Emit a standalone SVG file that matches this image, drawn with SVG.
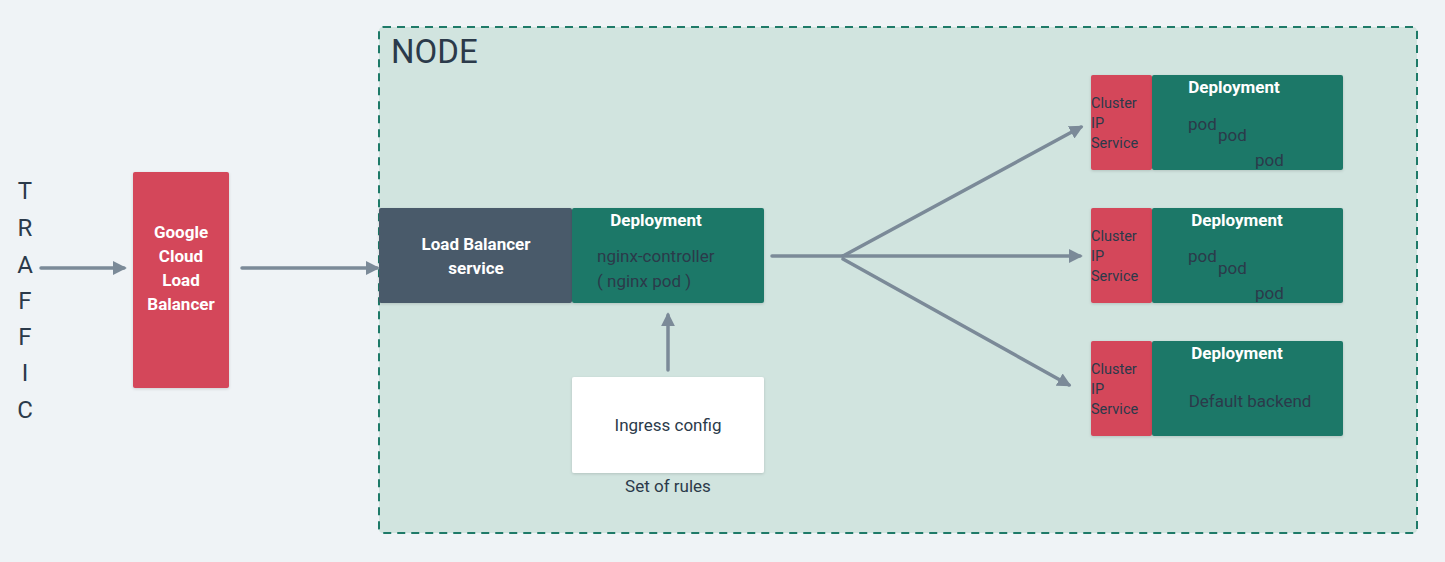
<svg xmlns="http://www.w3.org/2000/svg" width="1445" height="562" viewBox="0 0 1445 562">
<defs>
<style>
text{font-family:Roboto,"Noto Sans","Liberation Sans",sans-serif;}
.w{fill:#ffffff;font-weight:bold;font-size:17px;text-anchor:middle;}
.d{fill:#2b3a4a;font-size:17px;}
.s{fill:#2b3a4a;font-size:14.5px;}
.c{fill:#2b3a4a;font-size:24px;text-anchor:middle;}
.red{fill:#d4465a;}
.grn{fill:#1f7868;}
.conn{stroke:#7b8a98;stroke-width:3.5;fill:none;stroke-linecap:round;}
</style>
<marker id="ah" viewBox="0 0 10 10" refX="8" refY="5" markerWidth="4" markerHeight="4" orient="auto" markerUnits="strokeWidth">
<path d="M0,0 L10,5 L0,10 z" fill="#7b8a98"/>
</marker>
<filter id="sh" x="-10%" y="-10%" width="120%" height="130%">
<feDropShadow dx="0" dy="1" stdDeviation="1.5" flood-color="#000" flood-opacity="0.15"/>
</filter>
</defs>
<rect width="1445" height="562" fill="#eff3f6"/>

<g id="node-area">
<rect x="379" y="27" width="1038" height="506" rx="4" fill="#d1e4df" stroke="#1e7a68" stroke-width="2" stroke-dasharray="8,6"/>
<text x="391" y="63" style="font-size:33px;fill:#2b3a4a;">NODE</text>
</g>

<g id="traffic">
<text class="c" x="25" y="199">T</text>
<text class="c" x="25" y="236">R</text>
<text class="c" x="25" y="273">A</text>
<text class="c" x="25" y="309">F</text>
<text class="c" x="25" y="345">F</text>
<text class="c" x="25" y="381">I</text>
<text class="c" x="25" y="418">C</text>
</g>

<g id="gclb">
<rect class="red" x="133" y="172" width="96" height="216" rx="2" filter="url(#sh)"/>
<text class="w" x="181" y="238">Google</text>
<text class="w" x="181" y="262">Cloud</text>
<text class="w" x="181" y="286">Load</text>
<text class="w" x="181" y="310">Balancer</text>
</g>

<g id="lb-service">
<rect x="379" y="208" width="193" height="95" rx="2" fill="#4a5a6a" filter="url(#sh)"/>
<text class="w" x="476" y="250">Load Balancer</text>
<text class="w" x="476" y="274">service</text>
</g>

<g id="nginx-deployment">
<rect class="grn" x="572" y="208" width="192" height="95" rx="2" filter="url(#sh)"/>
<text class="w" x="656" y="226">Deployment</text>
<text class="d" x="597" y="262">nginx-controller</text>
<text class="d" x="597" y="287">( nginx pod )</text>
</g>

<g id="ingress-config">
<rect x="572" y="377" width="192" height="96" rx="2" fill="#ffffff" filter="url(#sh)"/>
<text class="d" x="668" y="431" text-anchor="middle">Ingress config</text>
<text class="d" x="668" y="492" text-anchor="middle">Set of rules</text>
</g>

<g id="service-1">
<rect class="red" x="1091" y="75" width="61" height="95" rx="2" filter="url(#sh)"/>
<text class="s" x="1091" y="108">Cluster</text>
<text class="s" x="1091" y="128">IP</text>
<text class="s" x="1091" y="148">Service</text>
<rect class="grn" x="1152" y="75" width="191" height="95" rx="2" filter="url(#sh)"/>
<text class="w" x="1234" y="93">Deployment</text>
<text class="d" x="1188" y="130">pod</text>
<text class="d" x="1218" y="141">pod</text>
<text class="d" x="1255" y="166">pod</text>
</g>

<g id="service-2">
<rect class="red" x="1091" y="208" width="61" height="95" rx="2" filter="url(#sh)"/>
<text class="s" x="1091" y="241">Cluster</text>
<text class="s" x="1091" y="261">IP</text>
<text class="s" x="1091" y="281">Service</text>
<rect class="grn" x="1152" y="208" width="191" height="95" rx="2" filter="url(#sh)"/>
<text class="w" x="1237" y="226">Deployment</text>
<text class="d" x="1188" y="262">pod</text>
<text class="d" x="1218" y="274">pod</text>
<text class="d" x="1255" y="299">pod</text>
</g>

<g id="service-3">
<rect class="red" x="1091" y="341" width="61" height="95" rx="2" filter="url(#sh)"/>
<text class="s" x="1091" y="374">Cluster</text>
<text class="s" x="1091" y="394">IP</text>
<text class="s" x="1091" y="414">Service</text>
<rect class="grn" x="1152" y="341" width="191" height="95" rx="2" filter="url(#sh)"/>
<text class="w" x="1237" y="359">Deployment</text>
<text class="d" x="1250" y="407" text-anchor="middle">Default backend</text>
</g>

<g id="connectors">
<line class="conn" x1="41" y1="268" x2="124" y2="268" marker-end="url(#ah)"/>
<line class="conn" x1="242" y1="268" x2="377" y2="268" marker-end="url(#ah)"/>
<line class="conn" x1="668" y1="370" x2="668" y2="315" marker-end="url(#ah)"/>
<line class="conn" x1="772" y1="256" x2="843" y2="256"/>
<line class="conn" x1="843" y1="256" x2="1081" y2="127" marker-end="url(#ah)"/>
<line class="conn" x1="843" y1="256" x2="1080" y2="256" marker-end="url(#ah)"/>
<line class="conn" x1="843" y1="259" x2="1069" y2="385" marker-end="url(#ah)"/>
</g>
</svg>
